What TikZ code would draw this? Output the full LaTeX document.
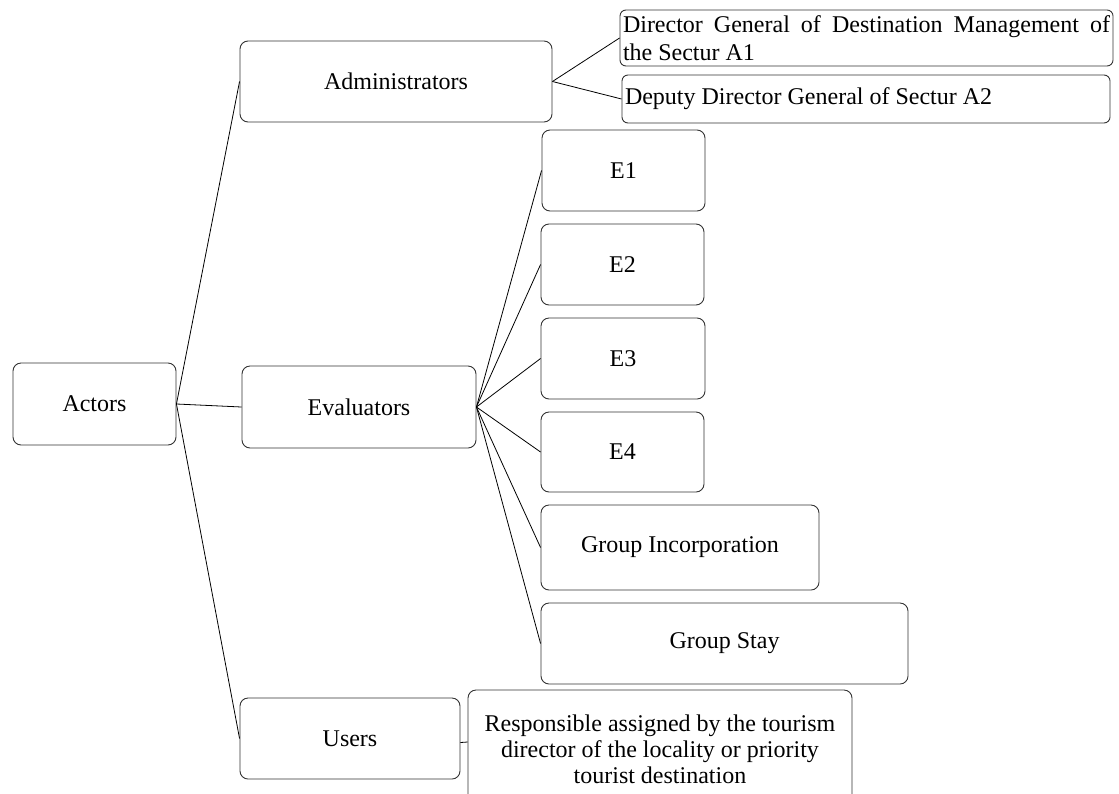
\documentclass[tikz,border=0pt]{standalone}
\usepackage{fontspec}
\setmainfont{Liberation Serif}
\begin{document}
\begin{tikzpicture}[x=1pt,y=-1pt,
  box/.style={draw=black!80, rounded corners=8pt, line width=0.9pt, inner sep=2pt, align=center,
    font=\fontsize{24}{26}\selectfont},
  link/.style={line width=0.8pt, draw=black}]
\useasboundingbox (0,0) rectangle (1119,793);
\clip (0,0) rectangle (1119,793);
\node[box, minimum width=163pt, minimum height=82pt] (actors) at (94.5,404) {Actors};
\node[box, minimum width=312pt, minimum height=81pt] (admin) at (396,81.5) {Administrators};
\node[box, minimum width=234pt, minimum height=82pt] (eval) at (359,407) {Evaluators};
\node[box, minimum width=220pt, minimum height=81pt] (users) at (350,738.5) {Users};
\node[box, minimum width=493pt, minimum height=56pt, text width=487pt, align=justify, rounded corners=6pt,
  font=\fontsize{24}{28}\selectfont] (dg) at (866.5,38) {Director General of Destination Management of\linebreak the Sectur A1};
\node[box, minimum width=488pt, minimum height=48pt, text width=482pt, align=flush left, rounded corners=6pt] (ddg) at (866,99) {Deputy Director General of Sectur A2};
\node[box, minimum width=163pt, minimum height=81pt] (e1) at (623.5,170.5) {E1};
\node[box, minimum width=163pt, minimum height=81pt] (e2) at (622.5,264.5) {E2};
\node[box, minimum width=164pt, minimum height=81pt] (e3) at (623,358.5) {E3};
\node[box, minimum width=163pt, minimum height=80pt] (e4) at (622.5,452) {E4};
\node[box, minimum width=278pt, minimum height=85pt] (gi) at (680,547.5) {Group Incorporation};
\node[box, minimum width=367pt, minimum height=81pt] (gs) at (724.5,643.5) {Group Stay};
\node[box, minimum width=384pt, minimum height=118pt] (resp) at (660,749) {Responsible assigned by the tourism\\director of the locality or priority\\tourist destination};
\coordinate (respin) at ([yshift=7pt]resp.west);
\draw[link] (actors.east) -- (admin.west);
\draw[link] (actors.east) -- (eval.west);
\draw[link] (actors.east) -- (users.west);
\draw[link] (admin.east) -- (dg.west);
\draw[link] (admin.east) -- (ddg.west);
\foreach \n in {e1,e2,e3,e4,gi,gs} \draw[link] (eval.east) -- (\n.west);
\draw[link] ([yshift=-4pt]users.east) -- (respin);
\end{tikzpicture}
\end{document}
